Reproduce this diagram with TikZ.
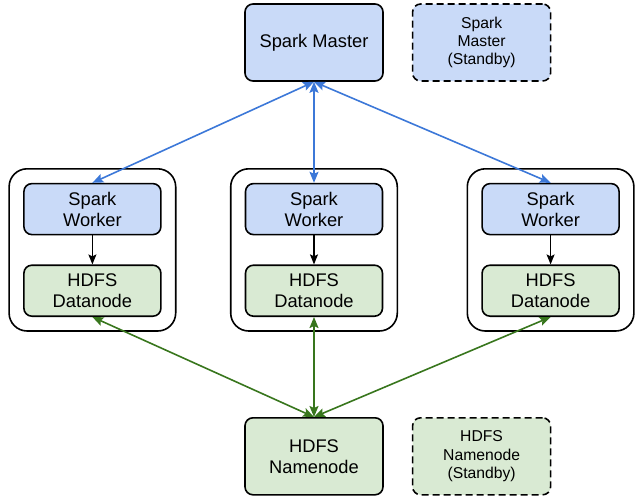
\documentclass[tikz,border=0pt]{standalone}
\usepackage{fontspec}
\setmainfont{Liberation Sans}
\usetikzlibrary{positioning}
\usetikzlibrary{arrows.meta}
\usetikzlibrary{fit}
\definecolor{sparkblue}{HTML}{C9DAF8}
\definecolor{hdfsgreen}{HTML}{D9EAD3}
\definecolor{linkblue}{HTML}{3C78D8}
\definecolor{linkgreen}{HTML}{38761D}
\tikzset{
    every node/.append style={
        font=\fontsize{18.3}{21}\selectfont,
        align=center
    },
    box/.style={
        draw,
        line width=1.6pt,
        rounded corners=8pt,
        inner sep=2pt
    },
    bigbox/.append style={
        box,
        minimum width=138pt,
        minimum height=77pt
    },
    smallbox/.append style={
        box,
        minimum width=137pt,
        minimum height=51pt
    },
    spark/.append style={
        fill=sparkblue
    },
    hdfs/.append style={
        fill=hdfsgreen
    },
    standby/.append style={
        dash pattern=on 7pt off 4pt,
        font=\fontsize{15.7}{18.3}\selectfont
    },
    hostbox/.append style={
        draw,
        line width=1.6pt,
        rounded corners=18pt,
        inner xsep=14pt,
        inner ysep=14pt
    },
    sparklink/.append style={
        draw=linkblue,
        <->,>={Stealth[length=11pt, width=9pt, inset=2pt]},
        line width=1.6pt
    },
    hdfslink/.append style={
        draw=linkgreen,
        <->,>={Stealth[length=11pt, width=9pt, inset=2pt]},
        line width=1.6pt
    },
    locallink/.append style={
        draw,
        ->,>={Stealth[length=10pt, width=8pt, inset=2pt]},
        line width=1.4pt
    }
}
\begin{document}
\begin{tikzpicture}[x=1pt, y=-1pt]
    \useasboundingbox (0,0) rectangle (638,498);

    \node[bigbox, spark] (master) at (314,42.5) {Spark Master};
    \node[bigbox, spark, standby, right = 28pt of master] (masterSB) {Spark\\Master\\(Standby)};

    \node[smallbox, spark, below = 101pt of master] (w2) {Spark\\Worker};
    \node[smallbox, spark, left = 83pt of w2] (w1) {Spark\\Worker};
    \node[smallbox, spark, right = 98pt of w2] (w3) {Spark\\Worker};
    \node[smallbox, hdfs, below = 29pt of w1] (d1) {HDFS\\Datanode};
    \node[smallbox, hdfs, below = 29pt of w2] (d2) {HDFS\\Datanode};
    \node[smallbox, hdfs, below = 29pt of w3] (d3) {HDFS\\Datanode};

    \node[hostbox, fit = (w1) (d1)] (host1) {};
    \node[hostbox, fit = (w2) (d2)] (host2) {};
    \node[hostbox, fit = (w3) (d3)] (host3) {};

    \node[bigbox, hdfs, below = 100pt of d2] (namenode) {HDFS\\Namenode};
    \node[bigbox, hdfs, standby, right = 28pt of namenode] (namenodeSB) {HDFS\\Namenode\\(Standby)};

    \draw[sparklink] (master.south) -- (w1.north);
    \draw[sparklink] (master.south) -- (w2.north);
    \draw[sparklink] (master.south) -- (w3.north);
    \draw[locallink] (w1) -- (d1);
    \draw[locallink] (w2) -- (d2);
    \draw[locallink] (w3) -- (d3);
    \draw[hdfslink] (d1.south) -- (namenode.north);
    \draw[hdfslink] (d2.south) -- (namenode.north);
    \draw[hdfslink] (d3.south) -- (namenode.north);
\end{tikzpicture}
\end{document}
